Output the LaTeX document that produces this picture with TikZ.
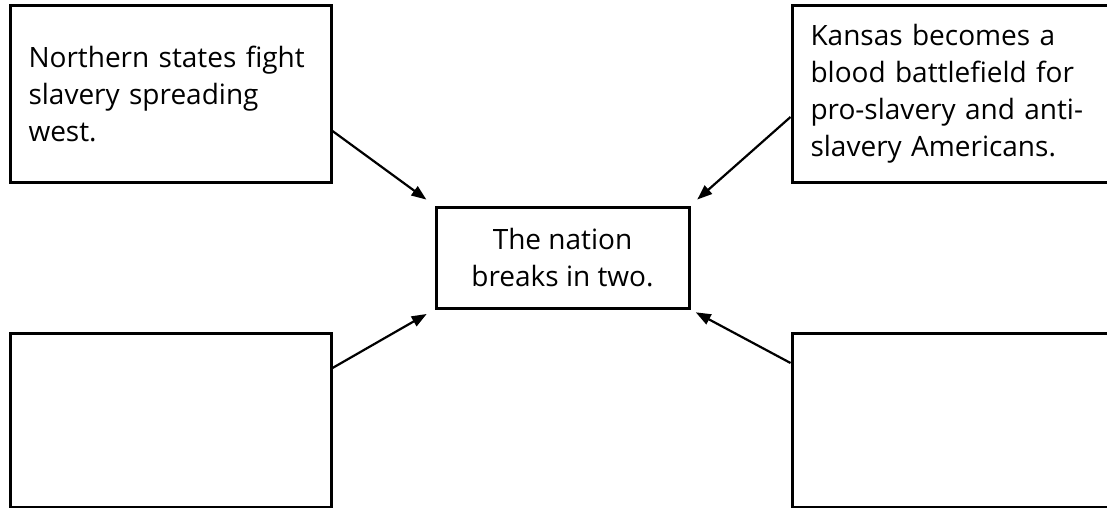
\documentclass[tikz,border=0pt]{standalone}
\usepackage{fontspec}
\setmainfont{Open Sans}
\usepackage{tikz}
\usetikzlibrary{arrows,arrows.meta,positioning,calc}

\begin{document}
\begin{tikzpicture}[x=1pt,y=1pt]
\tikzset{EVENT/.style={draw,line width=3pt,rectangle,minimum width=321pt,minimum height=176pt,text width=284pt,align=left,inner sep=0pt}}
\tikzset{RESULT/.style={draw,line width=3pt,rectangle,minimum width=253pt,minimum height=101pt,align=center,inner sep=0pt}}

\tikzset{CAUSES/.style={draw,line width=2.2pt,-{Triangle[length=15pt,width=11pt]}}}

\useasboundingbox (0,0) rectangle (1107,-508);
\fontsize{28}{37}\selectfont

\node[EVENT] (northern states) at (170.5,-94) {Northern states fight\\slavery spreading\\west.};
\node[EVENT] (kansas) at (952.5,-94) {Kansas becomes a\\blood battlefield for\\pro-slavery and anti-\\slavery Americans.};
\node[RESULT] (nation) at (562.5,-257.5) {The nation\\breaks in two.};
\node[EVENT,minimum height=174pt] (empty left) at (170.5,-420) {};
\node[EVENT,minimum height=174pt] (empty right) at (952.5,-420) {};

\path [CAUSES,shorten >=10pt] ([yshift=-37pt]northern states.east) -- (nation.north west);
\path [CAUSES,shorten >=9pt] ([yshift=-23pt]kansas.west) -- (nation.north east);
\path [CAUSES,shorten >=9pt] ([yshift=52pt]empty left.east) -- (nation.south west);
\path [CAUSES,shorten >=6pt] ([yshift=57pt]empty right.west) -- (nation.south east);

\end{tikzpicture}
\end{document}
